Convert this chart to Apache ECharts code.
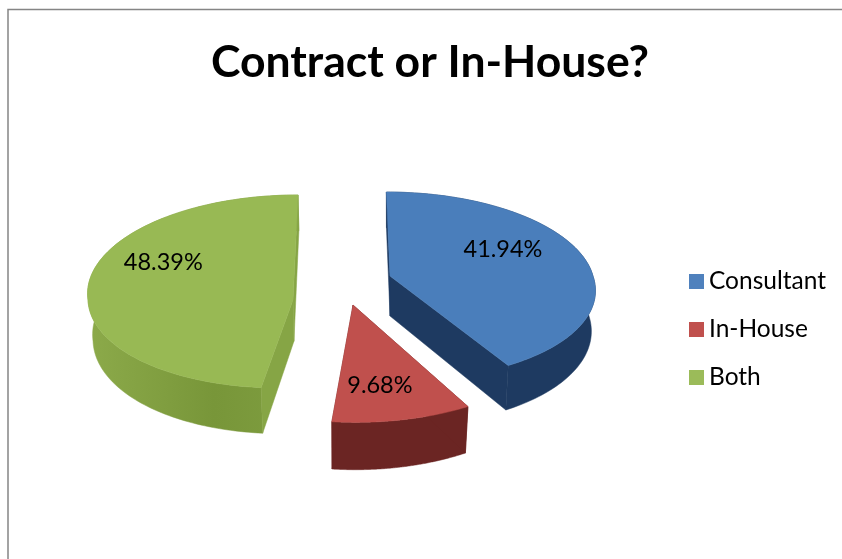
<!DOCTYPE html>
<html>
<head>
<meta charset="utf-8">
<style>html,body{margin:0;padding:0;background:#fff}#chart{width:842px;height:559px}</style>
<script src="https://cdn.jsdelivr.net/npm/echarts@6/dist/echarts.min.js"></script>
</head>
<body>
<div id="chart"></div>
<script>
// Share of respondents per engagement type
const categories = ['Consultant', 'In-House', 'Both'];
const shares = [41.94, 9.68, 48.39];
const chartTitle = 'Contract or In-House?';

// Pie projection: a tilted disk with perspective, each slice pulled out from the hub
const hub = [340, 290];
const sliceGeometry = [
  { explode: [50, -14], rx: 203, ry: 92.9, persp: 0.106, shearFar: -4, shearNear: -10, wallShift: 1, labelAt: [0.58, 0.3] },
  { explode: [13, 15], rx: 216, ry: 108, persp: 0.08, shearFar: -2, shearNear: -2.4, wallShift: 0, labelAt: [0.11, -0.7] },
  { explode: [-47, 10], rx: 205, ry: 95.8, persp: -0.088, shearFar: 4.6, shearNear: 14, wallShift: 0, labelAt: [-0.62, 0.38] }
];
const slicePaint = [
  { top: '#4a7ebb', wall: '#1e3a61', cut: '#1e3a61', legend: '#4f81bd' },
  { top: '#c0504d', wall: '#6b2523', cut: '#6b2523', legend: '#c0504d' },
  { top: '#98b954', wall: '#7d9c41', cut: '#86a545', legend: '#9bbb59' }
];
const fontFamily = 'Lato, "Open Sans", sans-serif';

const total = shares.reduce((a, b) => a + b, 0);

function project(g, u, v) {
  const k = 1 / (1 + g.persp * v);
  const shear = v > 0 ? g.shearFar : g.shearNear;
  return [
    hub[0] + g.explode[0] + (g.rx * u + shear * v) * k,
    hub[1] + g.explode[1] - g.ry * v * k
  ];
}

// Lower face of the slab: slightly smaller, pushed down by the thickness
function drop(g, p) {
  return [
    hub[0] + (p[0] - hub[0]) * 0.98 + g.wallShift,
    p[1] + 40 + 0.05 * (p[1] - 276)
  ];
}

function renderSlice(index, api) {
  const g = sliceGeometry[index];
  const paint = slicePaint[index];
  const value = api.value(0);
  const before = shares.slice(0, index).reduce((a, b) => a + b, 0);
  const start = before / total * Math.PI * 2;
  const end = (before + value) / total * Math.PI * 2;

  const arc = [];
  const steps = 120;
  for (let i = 0; i <= steps; i++) {
    const t = start + (end - start) * i / steps;
    arc.push(project(g, Math.sin(t), Math.cos(t)));
  }
  const apex = project(g, 0, 0);
  const lowerArc = arc.map(p => drop(g, p));
  const first = arc[0], last = arc[steps];

  const poly = (points, fill) => ({
    type: 'polygon',
    shape: { points },
    style: { fill, stroke: fill, lineWidth: 0.5 }
  });

  const wallFill = index === 2
    ? { type: 'linear', x: 0, y: 0, x2: 1, y2: 0, colorStops: [
        { offset: 0, color: '#8caa4a' }, { offset: 0.6, color: '#789639' }, { offset: 1, color: '#7f9e40' }] }
    : paint.wall;

  const label = project(g, g.labelAt[0], g.labelAt[1]);
  return {
    type: 'group',
    children: [
      poly(arc.concat(lowerArc.slice().reverse()), wallFill),
      poly([first, apex, drop(g, apex), drop(g, first)], paint.cut),
      poly([last, apex, drop(g, apex), drop(g, last)], paint.cut),
      poly([apex].concat(arc), paint.top),
      {
        type: 'text',
        style: {
          x: label[0], y: label[1],
          text: value.toFixed(2) + '%',
          fill: '#000',
          font: '23.5px ' + fontFamily,
          textAlign: 'center', textVerticalAlign: 'middle'
        }
      }
    ]
  };
}

const chart = echarts.init(document.getElementById('chart'), null, { renderer: 'canvas' });
chart.setOption({
  animation: false,
  backgroundColor: '#fff',
  title: {
    text: chartTitle,
    left: 430, top: 40, textAlign: 'center', padding: 0,
    textStyle: { fontFamily, fontWeight: 'bold', fontSize: 44.5, color: '#000' }
  },
  legend: {
    orient: 'vertical', left: 689, top: 269, padding: 0, itemGap: 23,
    icon: 'rect', itemWidth: 15, itemHeight: 15,
    data: categories,
    textStyle: { fontFamily, fontSize: 24.5, color: '#000', height: 22, lineHeight: 22 }
  },
  graphic: [{
    type: 'polyline',
    shape: { points: [[8, 559], [8, 9.5], [842, 9.5]] },
    style: { stroke: '#858585', lineWidth: 1.5, fill: null },
    silent: true
  }],
  series: categories.map((name, i) => ({
    type: 'custom',
    name,
    coordinateSystem: 'none',
    silent: true,
    itemStyle: { color: slicePaint[i].legend },
    data: [[shares[i]]],
    renderItem: (params, api) => renderSlice(i, api)
  }))
});
</script>
</body>
</html>
